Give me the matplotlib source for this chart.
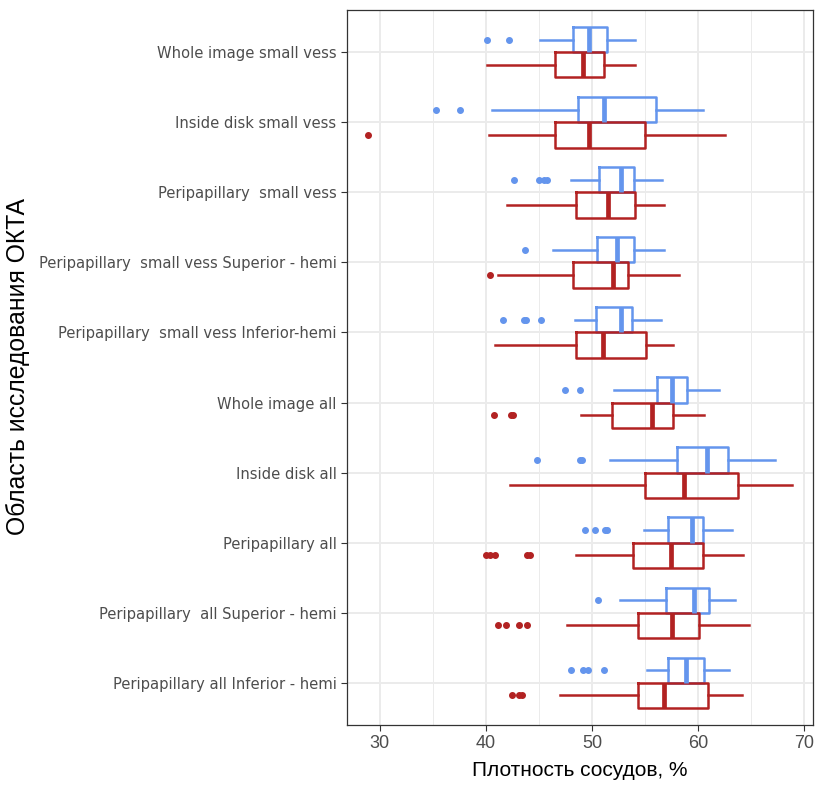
import matplotlib
matplotlib.use("Agg")
import matplotlib.pyplot as plt
from matplotlib import font_manager

categories = [
    "Whole image small vess",
    "Inside disk small vess",
    "Peripapillary  small vess",
    "Peripapillary  small vess Superior - hemi",
    "Peripapillary  small vess Inferior-hemi",
    "Whole image all",
    "Inside disk all",
    "Peripapillary all",
    "Peripapillary  all Superior - hemi",
    "Peripapillary all Inferior - hemi",
]

# group 1 (blue): whisker low, Q1, median, Q3, whisker high
blue_wlo = [45.1, 40.6, 48.0, 46.3, 48.4, 52.1, 51.7, 54.9, 52.6, 55.2]
blue_q1 = [48.2, 48.7, 50.7, 50.5, 50.4, 56.1, 58.0, 57.2, 57.0, 57.2]
blue_med = [49.7, 51.1, 52.7, 52.4, 52.7, 57.5, 60.8, 59.4, 59.6, 58.9]
blue_q3 = [51.4, 56.0, 54.0, 54.0, 53.8, 59.0, 62.8, 60.5, 61.0, 60.6]
blue_whi = [54.1, 60.5, 56.6, 56.8, 56.5, 62.0, 67.2, 63.2, 63.5, 62.9]
blue_out = [
    [40.1, 42.2],
    [35.3, 37.6],
    [42.7, 45.0, 45.5, 45.8],
    [43.7],
    [41.6, 43.6, 43.8, 45.2],
    [47.5, 48.9],
    [44.8, 48.9, 49.1],
    [49.3, 50.3, 51.2, 51.4],
    [50.6],
    [48.0, 49.2, 49.6, 51.1],
]

# group 2 (red)
red_wlo = [40.1, 40.3, 42.0, 41.1, 40.9, 49.0, 42.3, 48.5, 47.6, 47.0]
red_q1 = [46.5, 46.5, 48.5, 48.2, 48.5, 51.9, 55.0, 53.9, 54.3, 54.3]
red_med = [49.2, 49.7, 51.5, 52.0, 51.0, 55.7, 58.7, 57.4, 57.5, 56.8]
red_q3 = [51.1, 55.0, 54.1, 53.4, 55.1, 57.6, 63.8, 60.5, 60.1, 60.9]
red_whi = [54.1, 62.5, 56.8, 58.2, 57.6, 60.6, 68.8, 64.2, 64.8, 64.1]
red_out = [
    [],
    [28.9],
    [],
    [40.4],
    [],
    [40.8, 42.4, 42.6],
    [],
    [40.0, 40.4, 40.9, 43.9, 44.2],
    [41.1, 41.9, 43.1, 43.9],
    [42.5, 43.1, 43.4],
]

blue = "#6495ED"
red = "#B22222"

plt.rcParams["font.family"] = ["Liberation Sans", "DejaVu Sans"]

# look for a condensed sans face for the category labels (like the R output)
cond = None
for f in font_manager.fontManager.ttflist:
    n = (f.fname + " " + f.name).lower()
    if ("narrow" in n or "condensed" in n) and "bold" not in n and "oblique" not in n \
            and "italic" not in n and f.weight in (400, "normal", "regular"):
        if cond is None or "liberation" in n:
            cond = f.fname
if cond:
    tick_font = font_manager.FontProperties(fname=cond, size=11.8)
else:
    tick_font = font_manager.FontProperties(family="Liberation Sans", size=11.8)

fig = plt.figure(figsize=(8.16, 7.87), dpi=100)
ax = fig.add_axes([0.425, 0.079, 0.571, 0.908])


def stats(wlo, q1, med, q3, whi, out):
    return [dict(whislo=a, q1=b, med=c, q3=d, whishi=e, fliers=f)
            for a, b, c, d, e, f in zip(wlo, q1, med, q3, whi, out)]


pos = list(range(len(categories)))
for st, col, off in [
    (stats(blue_wlo, blue_q1, blue_med, blue_q3, blue_whi, blue_out), blue, -0.18),
    (stats(red_wlo, red_q1, red_med, red_q3, red_whi, red_out), red, 0.18),
]:
    ax.bxp(st, positions=[p + off for p in pos], widths=0.36, vert=False,
           showcaps=False, patch_artist=False,
           boxprops=dict(color=col, lw=1.8),
           whiskerprops=dict(color=col, lw=1.8),
           medianprops=dict(color=col, lw=3.4),
           flierprops=dict(marker="o", markerfacecolor=col, markeredgecolor=col,
                           markersize=4),
           zorder=3)

ax.set_yticks(pos)
ax.set_yticklabels(categories, color="#4D4D4D")
for t in ax.get_yticklabels():
    t.set_fontproperties(tick_font)
ax.set_ylim(9.6, -0.6)
ax.set_xlim(26.9, 70.8)
ax.set_xticks([30, 40, 50, 60, 70])
ax.set_xticks([35, 45, 55, 65], minor=True)
ax.tick_params(axis="x", labelsize=13, labelcolor="#4D4D4D", length=4, color="#333333")
ax.tick_params(axis="y", length=4, color="#333333")
ax.tick_params(axis="x", which="minor", length=0)

ax.grid(True, which="major", color="#EBEBEB", lw=1.4, zorder=0)
ax.grid(True, which="minor", axis="x", color="#EBEBEB", lw=0.7, zorder=0)
ax.set_axisbelow(True)
for s in ax.spines.values():
    s.set_color("#333333")
    s.set_linewidth(0.9)

ax.set_xlabel("Плотность сосудов, %", fontsize=15, labelpad=6)
fig.text(0.022, 0.534, "Область исследования ОКТА", rotation=90, fontsize=17.8,
         ha="center", va="center")

fig.savefig("out.png", dpi=100)
